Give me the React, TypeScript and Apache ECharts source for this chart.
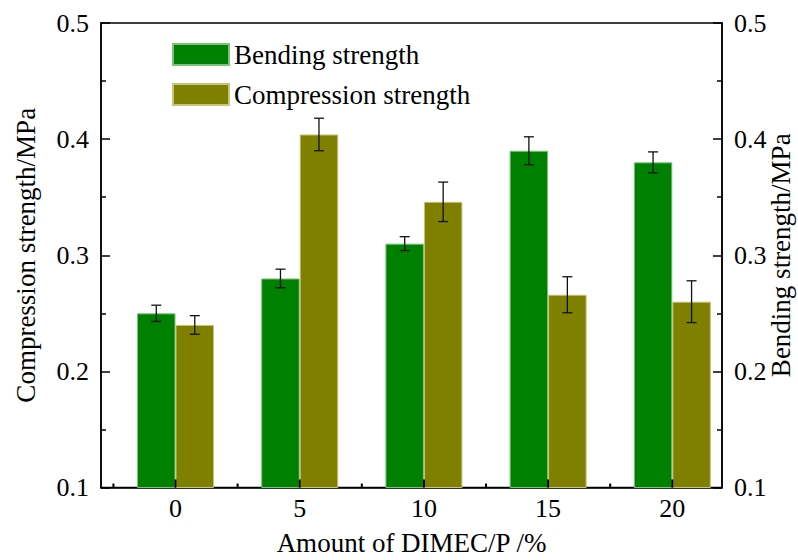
import React, { useEffect, useRef } from "react";
import * as echarts from "echarts";

const CATEGORIES = [0, 5, 10, 15, 20];
const BENDING = [0.25, 0.28, 0.31, 0.39, 0.38];
const BENDING_ERR = [0.007, 0.008, 0.006, 0.012, 0.009];
const COMPRESSION = [0.24, 0.404, 0.346, 0.266, 0.26];
const COMPRESSION_ERR = [0.008, 0.014, 0.017, 0.0155, 0.018];
const X_TICKS = [-2.5, 0, 2.5, 5, 7.5, 10, 12.5, 15, 17.5, 20];

const FONT = "Liberation Serif";
const BAR_WIDTH = 38.5;

export default function App() {
  const ref = useRef<HTMLDivElement>(null);

  useEffect(() => {
    if (!ref.current) return;
    const chart = echarts.init(ref.current, undefined, { renderer: "svg" });

    const errRender = (offset: number) => (params: any, api: any) => {
      const x = api.value(0);
      const v = api.value(1);
      const e = api.value(2);
      const top = api.coord([x, v + e]);
      const bot = api.coord([x, v - e]);
      const cx = top[0] + offset;
      const cap = 5;
      const style = { stroke: "#111", lineWidth: 1.3 };
      return {
        type: "group",
        children: [
          { type: "line", shape: { x1: cx, y1: top[1], x2: cx, y2: bot[1] }, style },
          { type: "line", shape: { x1: cx - cap, y1: top[1], x2: cx + cap, y2: top[1] }, style },
          { type: "line", shape: { x1: cx - cap, y1: bot[1], x2: cx + cap, y2: bot[1] }, style },
        ],
      };
    };

    const yAxisBase = {
      type: "value",
      min: 0.1,
      max: 0.5,
      interval: 0.1,
      nameLocation: "middle",
      nameMoveOverlap: false,
      nameTextStyle: { fontFamily: FONT, fontSize: 27, color: "#000" },
      axisLine: { show: true, onZero: false, lineStyle: { color: "#000", width: 1.5 } },
      axisTick: { show: true, inside: true, length: 9, lineStyle: { color: "#000", width: 1.5 } },
      minorTick: { show: true, splitNumber: 2, length: 5, lineStyle: { color: "#000", width: 1.5 } },
      splitLine: { show: false },
      axisLabel: {
        fontFamily: FONT,
        fontSize: 26,
        color: "#000",
        margin: 12,
        formatter: (v: number) => v.toFixed(1),
      },
    };

    const option: any = {
      animation: false,
      backgroundColor: "#fff",
      grid: {
        left: 101,
        right: 76,
        top: 23,
        bottom: 72.5,
        outerBoundsMode: "none",
        containLabel: false,
        show: true,
        borderColor: "#000",
        borderWidth: 1.5,
        backgroundColor: "transparent",
      },
      legend: {
        data: ["Bending strength", "Compression strength"],
        orient: "vertical",
        left: 172,
        top: 41,
        padding: 0,
        itemWidth: 56,
        itemHeight: 21,
        itemGap: 13,
        icon: "rect",
        textStyle: { fontFamily: FONT, fontSize: 27, color: "#000" },
      },
      xAxis: {
        type: "value",
        min: -3,
        max: 22,
        interval: 1,
        name: "Amount of DIMEC/P /%",
        nameLocation: "middle",
        nameMoveOverlap: false,
        nameGap: 42,
        nameTextStyle: { fontFamily: FONT, fontSize: 27, color: "#000" },
        axisLine: { show: true, onZero: false, lineStyle: { color: "#000", width: 1.5 } },
        axisTick: { show: false },
        splitLine: { show: false },
        axisLabel: {
          fontFamily: FONT,
          fontSize: 26,
          color: "#000",
          margin: 8,
          formatter: (v: number) => (v % 5 === 0 ? String(v) : ""),
        },
      },
      yAxis: [
        {
          ...yAxisBase,
          position: "left",
          name: "Compression strength/MPa",
          nameGap: 62,
        },
        {
          ...yAxisBase,
          position: "right",
          name: "Bending strength/MPa",
          nameGap: 45,
        },
      ],
      series: [
        {
          name: "Bending strength",
          type: "bar",
          yAxisIndex: 1,
          barWidth: BAR_WIDTH,
          barGap: "0%",
          itemStyle: { color: "#008000", borderColor: "#7cc27c", borderWidth: 1 },
          data: CATEGORIES.map((c, i) => [c, BENDING[i]]),
        },
        {
          name: "Compression strength",
          type: "bar",
          yAxisIndex: 0,
          barWidth: BAR_WIDTH,
          barGap: "0%",
          itemStyle: { color: "#808000", borderColor: "#c4c47c", borderWidth: 1 },
          data: CATEGORIES.map((c, i) => [c, COMPRESSION[i]]),
        },
        {
          name: "Bending error",
          type: "custom",
          yAxisIndex: 1,
          z: 10,
          renderItem: errRender(-BAR_WIDTH / 2),
          data: CATEGORIES.map((c, i) => [c, BENDING[i], BENDING_ERR[i]]),
        },
        {
          name: "Compression error",
          type: "custom",
          yAxisIndex: 0,
          z: 10,
          renderItem: errRender(BAR_WIDTH / 2),
          data: CATEGORIES.map((c, i) => [c, COMPRESSION[i], COMPRESSION_ERR[i]]),
        },
        {
          name: "x ticks",
          type: "custom",
          yAxisIndex: 0,
          z: 10,
          clip: false,
          renderItem: (params: any, api: any) => {
            const x = api.value(0);
            const p = api.coord([x, 0.1]);
            const len = x % 5 === 0 ? 8 : 4;
            return {
              type: "line",
              shape: { x1: p[0], y1: p[1], x2: p[0], y2: p[1] - len },
              style: { stroke: "#000", lineWidth: 2 },
            };
          },
          data: X_TICKS.map((t) => [t, 0.1]),
        },
      ],
    };

    chart.setOption(option);
    return () => chart.dispose();
  }, []);

  return (
    <div
      ref={ref}
      style={{ position: "fixed", left: 0, top: 0, width: 798, height: 560 }}
    />
  );
}
